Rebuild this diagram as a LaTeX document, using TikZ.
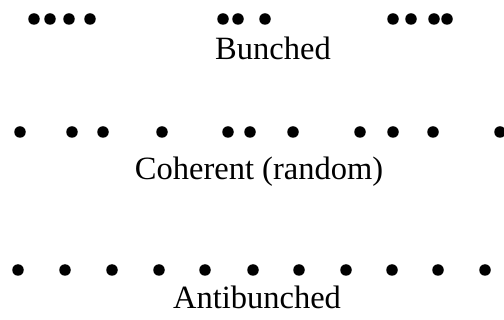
\documentclass[tikz,border=0pt]{standalone}
\usepackage{fontspec}
\setmainfont{Liberation Serif}
\begin{document}
\begin{tikzpicture}[x=1pt,y=-1pt,
  photon/.style={circle,fill=black,inner sep=0pt,minimum size=11.5pt},
  caption/.style={font=\fontsize{32.5}{36}\selectfont,inner sep=0pt,anchor=base}]
\useasboundingbox (0,0) rectangle (504,320);
% Bunched
\foreach \x [count=\i] in {34,50,69,90,223,238,265,393,411,434,447}
  \node[photon] (b\i) at (\x,19) {};
\node[caption] (tb) at (273,60) {Bunched};
% Coherent
\foreach \x [count=\i] in {20,72,103,162,228,250,293,360,393,433,500}
  \node[photon] (c\i) at (\x,132) {};
\node[caption] (tc) at (259,180) {Coherent (random)};
% Antibunched
\foreach \x [count=\i] in {18,65,112,159,205,253,299,346,392,438,485}
  \node[photon] (a\i) at (\x,270) {};
\node[caption] (ta) at (257,309) {Antibunched};
\end{tikzpicture}
\end{document}
